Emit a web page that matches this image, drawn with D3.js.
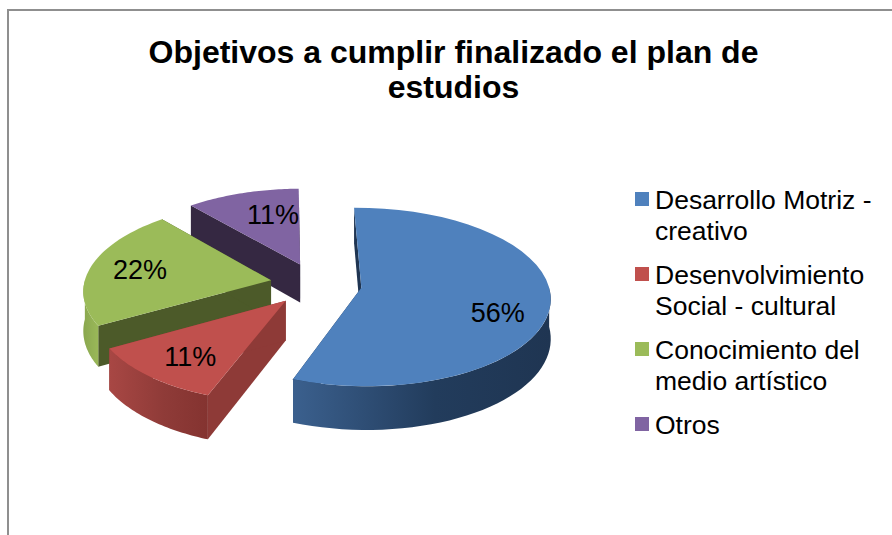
<!DOCTYPE html>
<html><head><meta charset="utf-8">
<script src="https://cdn.jsdelivr.net/npm/d3@7/dist/d3.min.js"></script>
<style>html,body{margin:0;padding:0;background:#fff}svg{display:block}text{font-family:"Liberation Sans",Arial,sans-serif;fill:#000}</style>
</head><body><div id="chart"></div>
<script>
const titleLines = ["Objetivos a cumplir finalizado el plan de", "estudios"];
const categories = [["Desarrollo Motriz -","creativo"],["Desenvolvimiento","Social - cultural"],["Conocimiento del","medio artístico"],["Otros"]];
const values = [56, 11, 22, 11];
const labels = ["56%","11%","22%","11%"];
const topColors = ["#4f81bd","#c0504d","#9bbb59","#8064a2"];
const wallColors = ["#1f3552","#8e3a37","#4c5a29","#352842"];
const bandStops = [["#3b608e","#223c5c","#1f3552"],["#a84744","#8f3b38","#843330"],["#8aa74e","#93b155","#9ab858"],["#352842","#352842","#352842"]];
const labelNudge = [[-3,14],[-2,5],[-19,-1],[6,-9]];
const labelFrac = [.74,.7,.62,.55];

const W=892,H=535, cx=316, cy=284, Rx=187, Ry=87.5, persp=.104, explode=.245, depth=39;
const svg=d3.select("#chart").append("svg").attr("width",W).attr("height",H);
const defs=svg.append("defs");

svg.append("path").attr("d",`M892,10H8V535`).attr("fill","none").attr("stroke","#8f8f8f").attr("stroke-width",2);

const tt=svg.append("g").attr("text-anchor","middle").attr("font-weight","bold").attr("font-size",32);
titleLines.forEach((t,i)=>tt.append("text").attr("x",453.5).attr("y",63+i*35).text(t));

const arcs=d3.pie().sort(null).startAngle(-1*Math.PI/180).endAngle(2*Math.PI-1*Math.PI/180)(values);

function project(U,V,z){const s=1/(1-persp*V);return [cx+Rx*U*s, cy+Ry*V*s+(z?depth*s:0)];}
function pt(a,theta,r,z){
  const mid=(a.startAngle+a.endAngle)/2;
  return project(explode*Math.sin(mid)+r*Math.sin(theta), -explode*Math.cos(mid)-r*Math.cos(theta), z);
}
const line=d3.line();
function rim(a,t0,t1,z){return d3.range(0,41).map(i=>pt(a,t0+(t1-t0)*i/40,1,z));}

[3,2,1,0].forEach(i=>{
  const a=arcs[i], g=svg.append("g");
  [a.startAngle,a.endAngle].forEach(t=>{
    g.append("path").attr("d",line([pt(a,t,0,false),pt(a,t,1,false),pt(a,t,1,true),pt(a,t,0,true)])+"Z").attr("fill",wallColors[i]);
  });
  const t0=Math.max(a.startAngle,Math.PI/2), t1=Math.min(a.endAngle,3*Math.PI/2);
  if(t1>t0){
    const id="band"+i;
    const lg=defs.append("linearGradient").attr("id",id);
    [0,.55,1].forEach((o,k)=>lg.append("stop").attr("offset",o).attr("stop-color",bandStops[i][k]));
    g.append("path").attr("d",line(rim(a,t0,t1,false).concat(rim(a,t0,t1,true).reverse()))+"Z").attr("fill",`url(#${id})`);
  }
  const top=[pt(a,a.startAngle,0,false)].concat(rim(a,a.startAngle,a.endAngle,false));
  g.append("path").attr("d",line(top)+"Z").attr("fill",topColors[i]);
});

arcs.forEach((a,i)=>{
  const mid=(a.startAngle+a.endAngle)/2, p=pt(a,mid,labelFrac[i],false);
  svg.append("text").attr("x",p[0]+labelNudge[i][0]).attr("y",p[1]+labelNudge[i][1]+9).attr("text-anchor","middle").attr("font-size",27).text(labels[i]);
});

categories.forEach((c,i)=>{
  const y0=192+75*i;
  svg.append("rect").attr("x",635).attr("y",y0).attr("width",14).attr("height",14).attr("fill",topColors[i]);
  c.forEach((t,k)=>svg.append("text").attr("x",655).attr("y",y0+16.5+k*31).attr("font-size",26.5).text(t));
});
</script></body></html>
